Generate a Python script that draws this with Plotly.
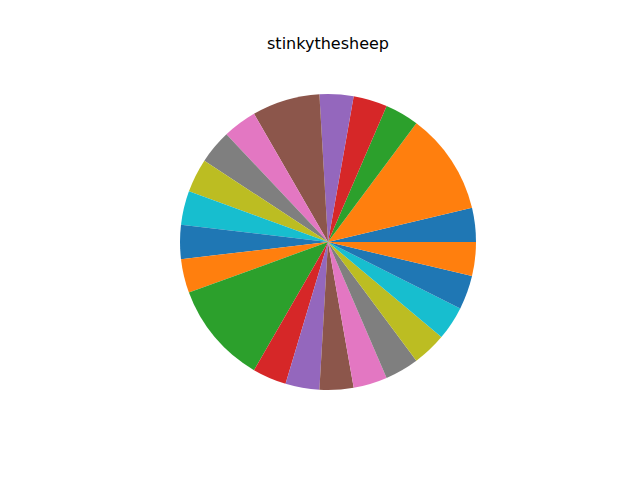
import plotly.graph_objects as go

labels = [f"s{i+1}" for i in range(22)]
values = [1, 3, 1, 1, 1, 2, 1, 1, 1, 1, 1, 1, 3, 1, 1, 1, 1, 1, 1, 1, 1, 1]
tab10 = ["#1f77b4", "#ff7f0e", "#2ca02c", "#d62728", "#9467bd",
         "#8c564b", "#e377c2", "#7f7f7f", "#bcbd22", "#17becf"]
colors = [tab10[i % 10] for i in range(len(values))]

first_slice_deg = 360 * values[0] / sum(values)

fig = go.Figure(go.Pie(
    labels=labels, values=values, sort=False,
    direction="counterclockwise", rotation=90 - first_slice_deg,
    marker=dict(colors=colors, line=dict(width=0)),
    textinfo="none", hoverinfo="label+value",
    domain=dict(x=[0.28125, 0.74375], y=[0.1875, 0.8042]),
))
fig.update_layout(
    width=640, height=480, showlegend=False,
    margin=dict(l=0, r=0, t=0, b=0),
    paper_bgcolor="white", plot_bgcolor="white",
    title=dict(text="stinkythesheep", x=0.5125, xanchor="center",
               y=1 - 43/480, yanchor="middle",
               font=dict(family="DejaVu Sans", size=16, color="black")),
)
fig.write_html("out.html")
